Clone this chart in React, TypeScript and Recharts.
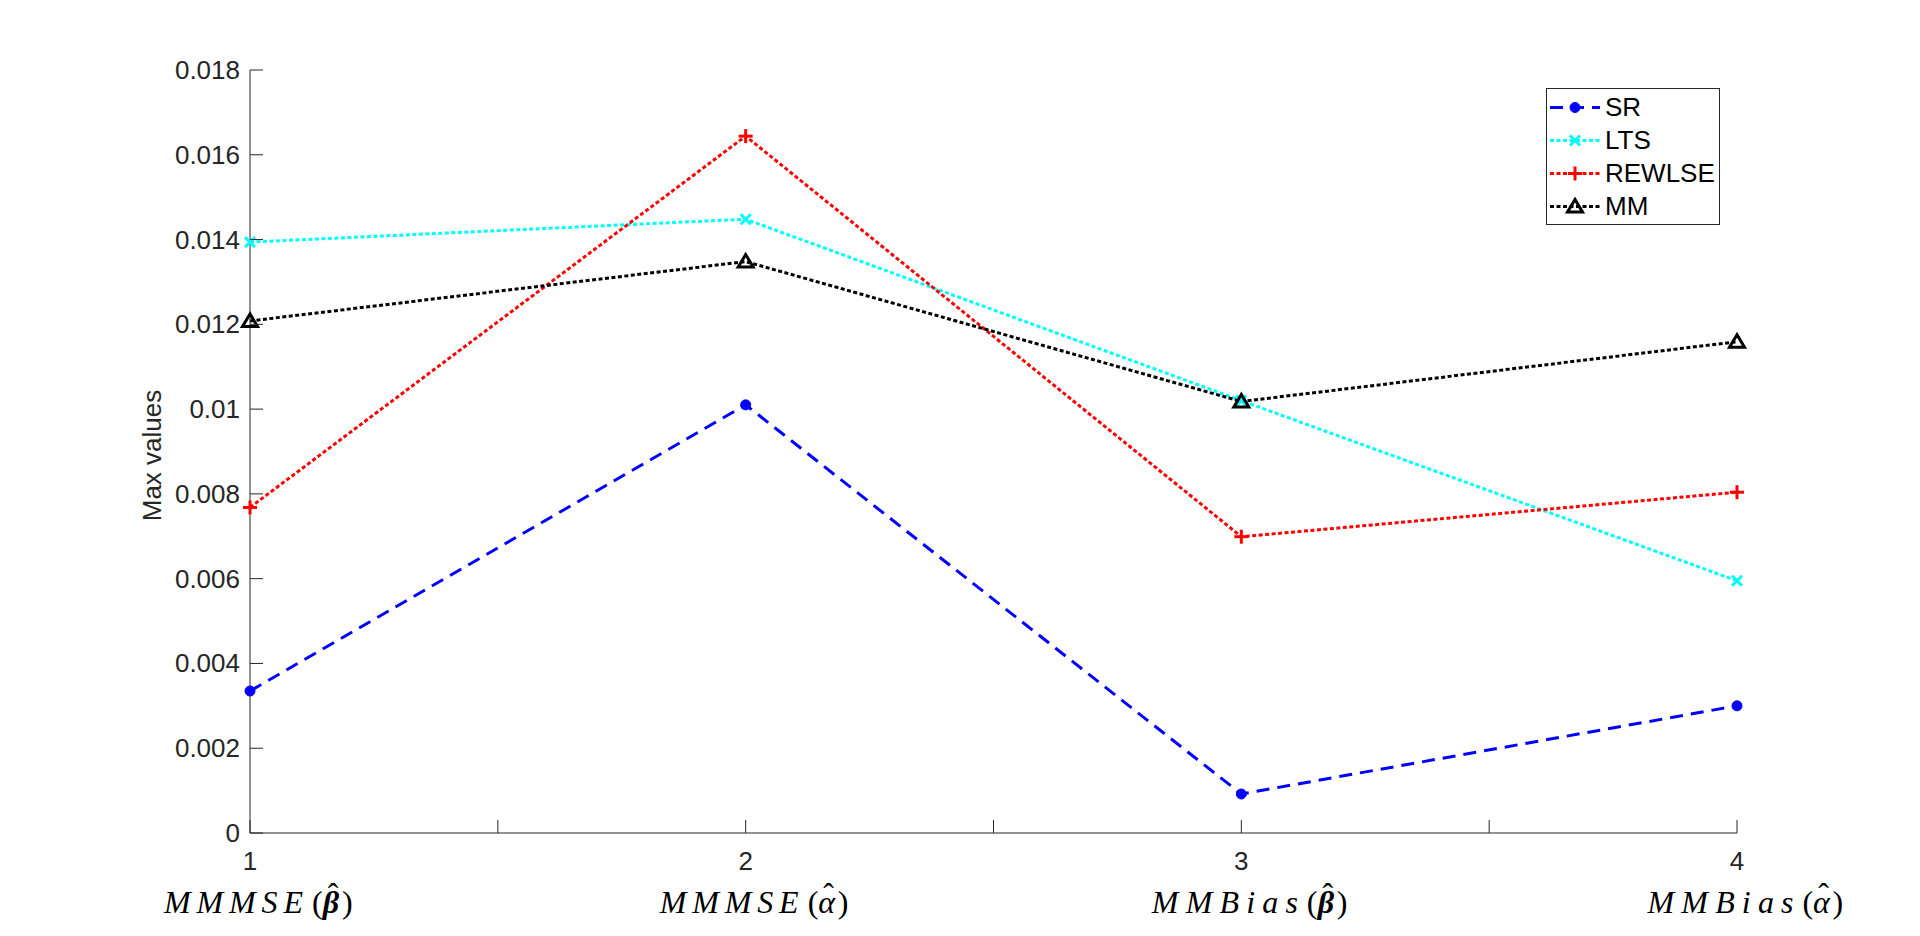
import React from 'react';
import { LineChart, Line, XAxis, YAxis, Legend } from 'recharts';

// Category positions and their math-style names
const categories = [1, 2, 3, 4];
const categoryNames = ['MMMSE', 'MMMSE', 'MMBias', 'MMBias'];
const categoryParams = ['β', 'α', 'β', 'α'];
const categoryParamBold = [true, false, true, false];

// Max values per estimator
const srValues = [0.00335, 0.0101, 0.00092, 0.003];
const ltsValues = [0.01394, 0.01448, 0.0102, 0.00595];
const rewlseValues = [0.00768, 0.01644, 0.00699, 0.00804];
const mmValues = [0.01208, 0.01348, 0.01018, 0.01159];

// Axis ticks
const xTicks = [1, 1.5, 2, 2.5, 3, 3.5, 4];
const yTicks = [0, 0.002, 0.004, 0.006, 0.008, 0.01, 0.012, 0.014, 0.016, 0.018];
const yTickLabels = ['0', '0.002', '0.004', '0.006', '0.008', '0.01', '0.012', '0.014', '0.016', '0.018'];

const data = categories.map((x, i) => ({
  x,
  SR: srValues[i],
  LTS: ltsValues[i],
  REWLSE: rewlseValues[i],
  MM: mmValues[i],
}));

const AXIS_COLOR = '#262626';
const SANS = '"Liberation Sans", Arial, Helvetica, sans-serif';
const SERIF = '"Liberation Serif", "Times New Roman", serif';
const TICK_LEN = 13;

const CHART_W = 1904;
const CHART_H = 920;
const MARGIN = { top: 62, right: 175, bottom: 0, left: 100 };
const Y_AXIS_W = 142;
const X_AXIS_H = 95;
const PLOT_H = CHART_H - MARGIN.top - X_AXIS_H - MARGIN.bottom;

type MarkerKind = 'circle' | 'x' | 'plus' | 'triangle';

interface SeriesStyle {
  key: string;
  color: string;
  dash: string;
  marker: MarkerKind;
}

const seriesStyles: SeriesStyle[] = [
  { key: 'SR', color: '#0000ff', dash: '13 8', marker: 'circle' },
  { key: 'LTS', color: '#00ffff', dash: '4 2.5', marker: 'x' },
  { key: 'REWLSE', color: '#ff0000', dash: '4 2.5', marker: 'plus' },
  { key: 'MM', color: '#000000', dash: '4 2.5', marker: 'triangle' },
];

function Marker({ kind, cx, cy, color }: { kind: MarkerKind; cx: number; cy: number; color: string }) {
  switch (kind) {
    case 'circle':
      return <circle cx={cx} cy={cy} r={5} fill={color} stroke={color} strokeWidth={1} />;
    case 'x':
      return (
        <g stroke={color} strokeWidth={3}>
          <line x1={cx - 5} y1={cy - 5} x2={cx + 5} y2={cy + 5} />
          <line x1={cx - 5} y1={cy + 5} x2={cx + 5} y2={cy - 5} />
        </g>
      );
    case 'plus':
      return (
        <g stroke={color} strokeWidth={3}>
          <line x1={cx - 7} y1={cy} x2={cx + 7} y2={cy} />
          <line x1={cx} y1={cy - 7} x2={cx} y2={cy + 7} />
        </g>
      );
    case 'triangle':
      return (
        <polygon
          points={`${cx},${cy - 7} ${cx - 7.5},${cy + 5.5} ${cx + 7.5},${cy + 5.5}`}
          fill="none"
          stroke={color}
          strokeWidth={3}
          strokeLinejoin="miter"
        />
      );
    default:
      return null;
  }
}

const makeDot = (s: SeriesStyle) => (props: any) => {
  const { cx, cy, index } = props;
  if (cx == null || cy == null) return <g key={`${s.key}-${index}`} />;
  return (
    <g key={`${s.key}-${index}`}>
      <Marker kind={s.marker} cx={cx} cy={cy} color={s.color} />
    </g>
  );
};

// Math-style category name: italic letters, upright parentheses, hatted parameter
function MathLabel({ cx, baseline, name, param, bold }: { cx: number; baseline: number; name: string; param: string; bold: boolean }) {
  const prefixW = name === 'MMMSE' ? 159 : 166;
  const total = prefixW + 33;
  const s = cx + 10 - total / 2;
  const pX = s + prefixW + 8;
  const common = { fontFamily: SERIF, fontSize: 32, fill: '#000' };
  return (
    <g>
      <text x={s} y={baseline} textLength={prefixW - 20} lengthAdjust="spacing" fontStyle="italic" {...common}>
        {name}
      </text>
      <text y={baseline} {...common}>
        <tspan x={s + prefixW - 11}>(</tspan>
        <tspan x={pX} textAnchor="middle" fontStyle="italic" fontWeight={bold ? 'bold' : 'normal'}>
          {param}
        </tspan>
        <tspan x={pX + 2} y={baseline - 8} textAnchor="middle">
          ˆ
        </tspan>
        <tspan x={s + prefixW + 19} y={baseline}>
          )
        </tspan>
      </text>
    </g>
  );
}

// Bottom axis: inward tick marks, numeric labels and math-style category names
const BottomTick = (props: any) => {
  const { x, y, payload } = props;
  const v = payload.value as number;
  const i = categories.indexOf(v);
  return (
    <g>
      <line x1={x} x2={x} y1={y} y2={y - TICK_LEN} stroke={AXIS_COLOR} strokeWidth={1} />
      {i >= 0 && (
        <>
          <text
            x={x}
            y={y + 28}
            textAnchor="middle"
            dominantBaseline="central"
            fontFamily={SANS}
            fontSize={26}
            fill={AXIS_COLOR}
          >
            {String(v)}
          </text>
          <MathLabel
            cx={x}
            baseline={y + 80}
            name={categoryNames[i]}
            param={categoryParams[i]}
            bold={categoryParamBold[i]}
          />
        </>
      )}
    </g>
  );
};

const TopTick = (props: any) => {
  const { x, y } = props;
  return <line x1={x} x2={x} y1={y} y2={y + TICK_LEN} stroke={AXIS_COLOR} strokeWidth={1} />;
};

const LeftTick = (props: any) => {
  const { x, y, payload } = props;
  const idx = yTicks.findIndex((t) => Math.abs(t - payload.value) < 1e-9);
  return (
    <g>
      <line x1={x} x2={x + TICK_LEN} y1={y} y2={y} stroke={AXIS_COLOR} strokeWidth={1} />
      <text
        x={x - 10}
        y={y}
        textAnchor="end"
        dominantBaseline="central"
        fontFamily={SANS}
        fontSize={26}
        fill={AXIS_COLOR}
      >
        {idx >= 0 ? yTickLabels[idx] : ''}
      </text>
    </g>
  );
};

const RightTick = (props: any) => {
  const { x, y } = props;
  return <line x1={x} x2={x - TICK_LEN} y1={y} y2={y} stroke={AXIS_COLOR} strokeWidth={1} />;
};

const YAxisTitle = () => {
  const cx = MARGIN.left + 44;
  const cy = MARGIN.top + PLOT_H / 2 + 4;
  return (
    <text
      x={cx}
      y={cy}
      transform={`rotate(-90, ${cx}, ${cy})`}
      textAnchor="middle"
      dominantBaseline="central"
      fontFamily={SANS}
      fontSize={26}
      fill={AXIS_COLOR}
    >
      Max values
    </text>
  );
};

const LegendBox = () => (
  <div
    style={{
      width: 174,
      height: 137,
      boxSizing: 'border-box',
      border: `1px solid ${AXIS_COLOR}`,
      background: '#fff',
      paddingTop: 2,
    }}
  >
    {seriesStyles.map((s) => (
      <div key={s.key} style={{ display: 'flex', alignItems: 'center', height: 33 }}>
        <svg width={58} height={33} style={{ display: 'block', overflow: 'visible' }}>
          <line x1={3} x2={53} y1={16.5} y2={16.5} stroke={s.color} strokeWidth={3} strokeDasharray={s.dash} />
          <Marker kind={s.marker} cx={28} cy={16.5} color={s.color} />
        </svg>
        <span style={{ fontFamily: SANS, fontSize: 26, color: '#000', lineHeight: '33px' }}>{s.key}</span>
      </div>
    ))}
  </div>
);

export default function App() {
  return (
    <div style={{ width: CHART_W, height: CHART_H, background: '#fff' }}>
      <LineChart width={CHART_W} height={CHART_H} data={data} margin={MARGIN}>
        <XAxis
          dataKey="x"
          type="number"
          domain={[1, 4]}
          ticks={xTicks}
          interval={0}
          height={X_AXIS_H}
          tickSize={0}
          tickMargin={0}
          tickLine={false}
          tick={<BottomTick />}
          axisLine={{ stroke: AXIS_COLOR, strokeWidth: 1 }}
        />
        <XAxis
          xAxisId="top"
          orientation="top"
          dataKey="x"
          type="number"
          domain={[1, 4]}
          ticks={xTicks}
          interval={0}
          height={0}
          tickSize={0}
          tickMargin={0}
          tickLine={false}
          tick={<TopTick />}
          axisLine={{ stroke: AXIS_COLOR, strokeWidth: 1 }}
        />
        <YAxis
          type="number"
          domain={[0, 0.018]}
          ticks={yTicks}
          interval={0}
          width={Y_AXIS_W}
          tickSize={0}
          tickMargin={0}
          tickLine={false}
          tick={<LeftTick />}
          axisLine={{ stroke: AXIS_COLOR, strokeWidth: 1 }}
          label={<YAxisTitle />}
        />
        <YAxis
          yAxisId="right"
          orientation="right"
          type="number"
          domain={[0, 0.018]}
          ticks={yTicks}
          interval={0}
          width={0}
          tickSize={0}
          tickMargin={0}
          tickLine={false}
          tick={<RightTick />}
          axisLine={{ stroke: AXIS_COLOR, strokeWidth: 1 }}
        />
        <Legend
          layout="vertical"
          align="center"
          verticalAlign="middle"
          wrapperStyle={{ left: 1538, top: 80, width: 'auto' }}
          content={<LegendBox />}
        />
        {seriesStyles.map((s) => (
          <Line
            key={s.key}
            dataKey={s.key}
            type="linear"
            stroke={s.color}
            strokeWidth={3}
            strokeDasharray={s.dash}
            dot={makeDot(s)}
            activeDot={false}
            isAnimationActive={false}
          />
        ))}
      </LineChart>
    </div>
  );
}
